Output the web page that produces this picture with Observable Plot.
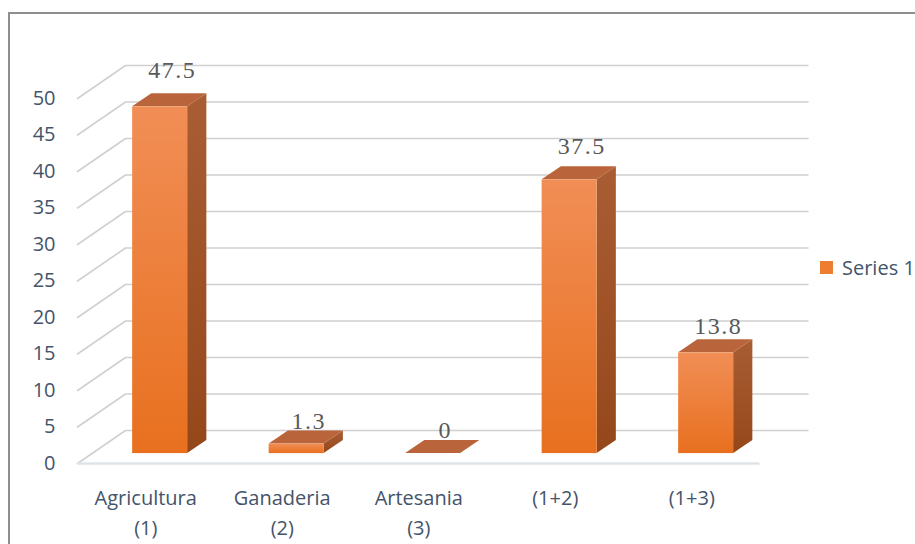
<!DOCTYPE html>
<html>
<head>
<meta charset="utf-8">
<script src="https://cdn.jsdelivr.net/npm/d3@7"></script>
<script src="https://cdn.jsdelivr.net/npm/@observablehq/plot@0.6"></script>
<style>
html,body{margin:0;padding:0;background:#fff;overflow:hidden;width:915px;height:544px}
#wrap{position:relative;width:915px;height:544px;overflow:hidden}
#frame{position:absolute;left:8px;top:12px;width:1000px;height:1000px;border:2px solid #8e8e8e;box-sizing:border-box}
#chart{position:absolute;left:0;top:0}
#legend{position:absolute;left:820px;top:254px;display:flex;align-items:center;font-family:"Open Sans";font-size:20px;color:#44546A;white-space:nowrap}
#legend .sw{width:13px;height:13px;background:#ED7D31;margin-right:9px}
</style>
</head>
<body>
<div id="wrap">
  <div id="frame"></div>
  <div id="chart"></div>
  <div id="legend"><div class="sw"></div><span id="legtext"></span></div>
</div>
<script>
// ---- data ----
const categories = ["Agricultura\n(1)", "Ganaderia\n(2)", "Artesania\n(3)", "(1+2)", "(1+3)"];
const values = [47.5, 1.3, 0, 37.5, 13.8];
const valueLabels = ["47.5", "1.3", "0", "37.5", "13.8"];
const yTicks = [0, 5, 10, 15, 20, 25, 30, 35, 40, 45, 50];
const seriesName = "Series 1";

// ---- 3D geometry (in scale units) ----
const DX = 48 / 136.5;   // horizontal shift per unit depth (category units)
const DY = 33 / 7.3;     // vertical shift per unit depth (value units)
const HW = 27.5 / 136.5; // bar half width
const D0 = 0.3, D1 = 0.7, DL = 0.55;
const PERSP = 1.04;      // label plane sits slightly further back (perspective)
const n = categories.length;

const bars = categories.map((c, i) => ({i, c, v: values[i], label: valueLabels[i], cx: i + 0.5}));
const front = bars.map(b => ({i: b.i, x1: b.cx - HW + D0 * DX, x2: b.cx + HW + D0 * DX, y1: D0 * DY, y2: b.v + D0 * DY}));
const topFace = bars.flatMap(b => [D0, D1].map(d => ({i: b.i, y: b.v + d * DY, x1: b.cx - HW + d * DX, x2: b.cx + HW + d * DX})));
const side = bars.flatMap(b => [D0, D1].map(d => ({i: b.i, x: b.cx + HW + d * DX, y1: d * DY, y2: b.v + d * DY})));
const grid = yTicks.flatMap(t => [{t, x: 0, y: t}, {t, x: DX, y: t + DY}, {t, x: n + DX, y: t + DY}]);

const axisColor = "#44546A";

const plot = Plot.plot({
  width: 915,
  height: 544,
  style: {fontFamily: "Open Sans", background: "transparent"},
  x: {domain: [0, n], range: [77, 759.5], axis: null},
  y: {domain: [0, 50], range: [463, 98], axis: null},
  marks: [
    Plot.line(grid, {x: "x", y: "y", z: "t", stroke: "#d0d0d0", strokeWidth: 1.6}),
    Plot.ruleY([0], {x1: 0, x2: n, stroke: "#dfe3e8", strokeWidth: 2.5}),
    Plot.areaY(side, {x: "x", y1: "y1", y2: "y2", z: "i", fill: "url(#sideGrad)", curve: "linear"}),
    Plot.areaX(topFace, {y: "y", x1: "x1", x2: "x2", z: "i", fill: "#B9643A", curve: "linear"}),
    Plot.rect(front, {x1: "x1", x2: "x2", y1: "y1", y2: "y2", fill: "url(#frontGrad)"}),
    Plot.text(bars, {
      x: b => b.cx + DL * DX, y: b => b.v * PERSP + D1 * DY, text: "label",
      lineAnchor: "bottom", dy: -2, fontFamily: "Liberation Serif", fontSize: 24,
      fill: "#595959", textAnchor: "middle"
    }),
    Plot.text(yTicks, {
      x: () => 0, y: t => t, text: t => String(t), dx: -22, textAnchor: "end",
      fontSize: 20, fill: axisColor, fontFamily: "Open Sans"
    }),
    Plot.text(bars, {
      x: "cx", y: () => 0, text: "c", lineAnchor: "top", dy: 20, lineHeight: 1.5,
      fontSize: 20, fill: axisColor, fontFamily: "Open Sans", textAnchor: "middle"
    })
  ]
});

// gradients for the bar faces
const defs = d3.select(plot).insert("defs", ":first-child");
const fg = defs.append("linearGradient").attr("id", "frontGrad").attr("x1", 0).attr("y1", 0).attr("x2", 0).attr("y2", 1);
fg.append("stop").attr("offset", "0%").attr("stop-color", "#F18E56");
fg.append("stop").attr("offset", "100%").attr("stop-color", "#E8701F");
const sg = defs.append("linearGradient").attr("id", "sideGrad").attr("x1", 0).attr("y1", 0).attr("x2", 0).attr("y2", 1);
sg.append("stop").attr("offset", "0%").attr("stop-color", "#A95D33");
sg.append("stop").attr("offset", "100%").attr("stop-color", "#94481A");

// slightly spaced serif value labels, as in the original rendering
d3.select(plot).selectAll("g[font-family='Liberation Serif']").attr("letter-spacing", "1.5px");

document.getElementById("chart").appendChild(plot);
document.getElementById("legtext").textContent = seriesName;
</script>
</body>
</html>
